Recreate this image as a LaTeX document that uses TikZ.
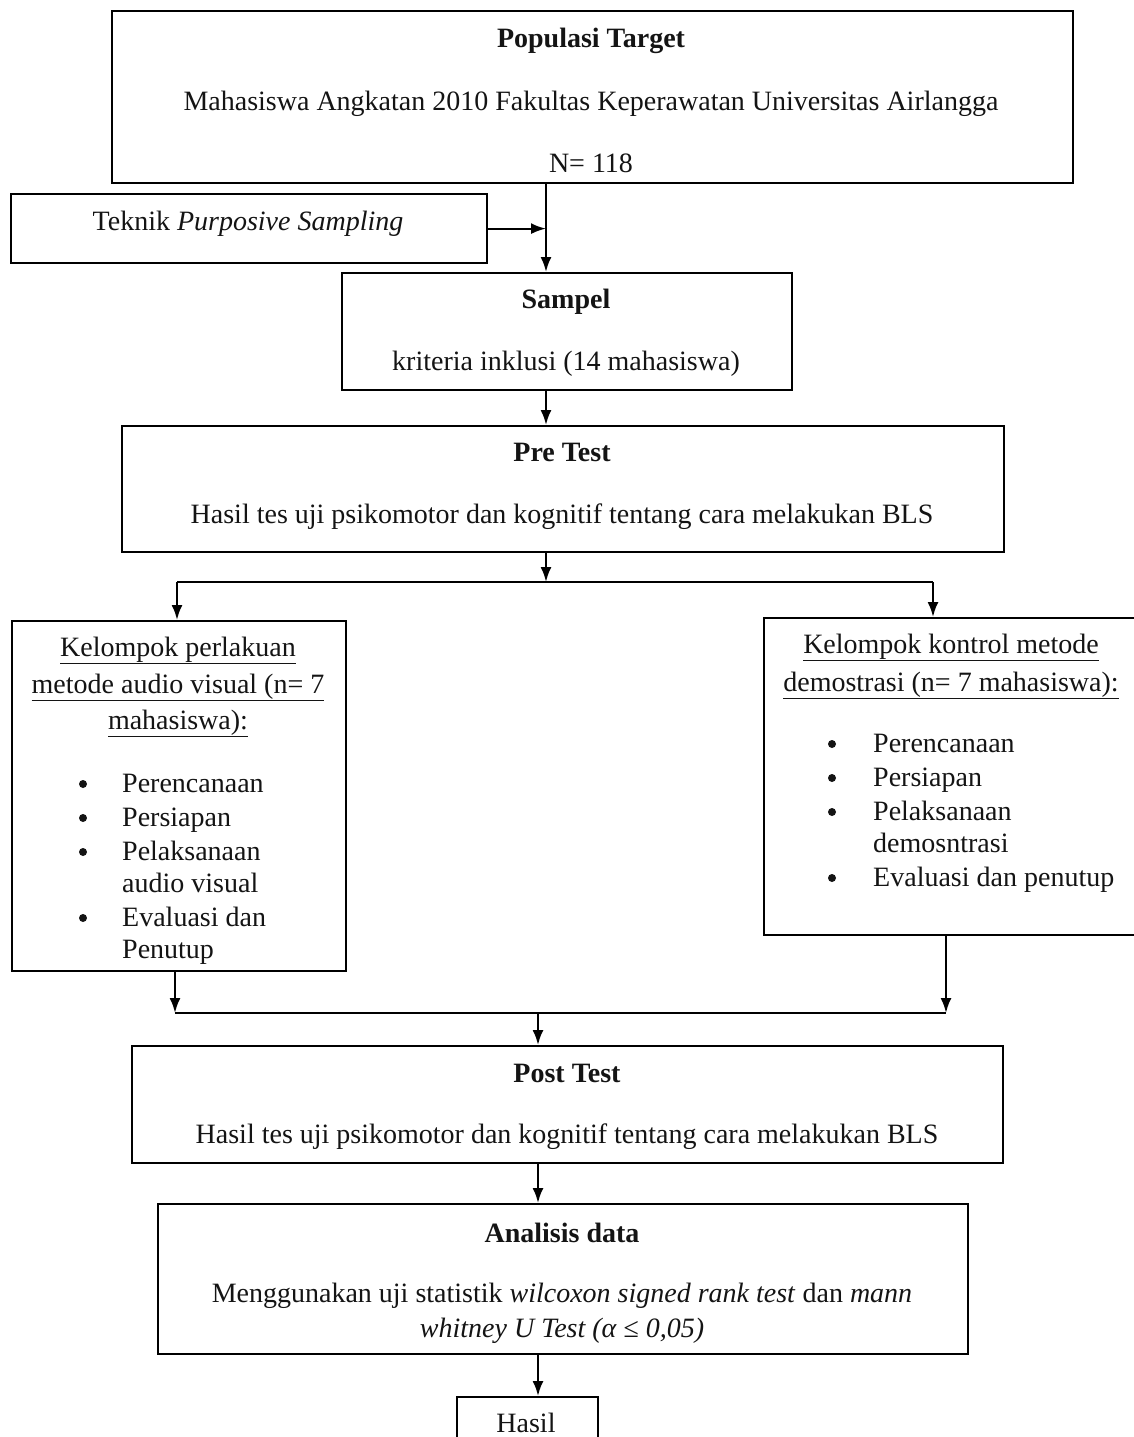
\documentclass[tikz,border=0pt]{standalone}
\usepackage{fontspec}
\setmainfont{Liberation Serif}
\usetikzlibrary{arrows.meta,calc}
\begin{document}
\begin{tikzpicture}[x=1pt,y=-1pt,
  box/.style={draw=black,line width=2.2pt,inner sep=0pt,anchor=north west},
  txt/.style={anchor=base,inner sep=0pt,font=\fontsize{28}{34}\selectfont,text=black!92},
  ltxt/.style={anchor=base west,inner sep=0pt,font=\fontsize{28}{34}\selectfont,text=black!92},
  bul/.style={circle,fill=black!92,inner sep=0pt,minimum size=8pt},
  conn/.style={line width=2.2pt},
  arr/.style={line width=2.2pt,-{Latex[length=15pt,width=11pt]}}]
\useasboundingbox (0,0) rectangle (1134,1437);
\clip (0,0) rectangle (1134,1437);
\fill[white] (0,0) rectangle (1134,1437);
% boxes
\node[box,minimum width=961pt,minimum height=172pt] (pop) at (111,10) {};
\node[box,minimum width=476pt,minimum height=69pt] (tek) at (10,193) {};
\node[box,minimum width=450pt,minimum height=117pt] (sam) at (341,272) {};
\node[box,minimum width=882pt,minimum height=126pt] (pre) at (121,425) {};
\node[box,minimum width=334pt,minimum height=350pt] (lft) at (11,620) {};
\node[box,minimum width=390pt,minimum height=317pt] (rgt) at (763,617) {};
\node[box,minimum width=871pt,minimum height=117pt] (post) at (131,1045) {};
\node[box,minimum width=810pt,minimum height=150pt] (ana) at (157,1203) {};
\node[box,minimum width=141pt,minimum height=60pt] (has) at (456,1396) {};
% coordinates
\coordinate (spine) at (546,0);
\coordinate (split) at (546,582);
\coordinate (sl) at (177,582);
\coordinate (sr) at (933,582);
\coordinate (ml) at (175,1013);
\coordinate (mr) at (946,1013);
\coordinate (merge) at (538,1013);
% texts
\node[txt,font=\fontsize{28}{34}\selectfont\bfseries] (t1) at (591,48) {Populasi Target};
\node[txt] (t2) at (591,110) {Mahasiswa Angkatan 2010 Fakultas Keperawatan Universitas Airlangga};
\node[txt] (t3) at (591,172) {N= 118};
\node[txt] (t4) at (248,230) {Teknik \textit{Purposive Sampling}};
\node[txt,font=\fontsize{28}{34}\selectfont\bfseries] (t5) at (566,308) {Sampel};
\node[txt] (t6) at (566,370) {kriteria inklusi (14 mahasiswa)};
\node[txt,font=\fontsize{28}{34}\selectfont\bfseries] (t7) at (562,461) {Pre Test};
\node[txt] (t8) at (562,523) {Hasil tes uji psikomotor dan kognitif tentang cara melakukan BLS};
% left box
\node[txt] (l1) at (178,656) {\underline{Kelompok perlakuan}};
\node[txt] (l2) at (178,693) {\underline{metode audio visual (n= 7}};
\node[txt] (l3) at (178,729) {\underline{mahasiswa):}};
\node[bul] (lb1) at (83,784) {};
\node[ltxt] (lt1) at (122,792) {Perencanaan};
\node[bul] (lb2) at (83,818) {};
\node[ltxt] (lt2) at (122,826) {Persiapan};
\node[bul] (lb3) at (83,852) {};
\node[ltxt] (lt3) at (122,860) {Pelaksanaan};
\node[ltxt] (lt4) at (122,892) {audio visual};
\node[bul] (lb5) at (83,918) {};
\node[ltxt] (lt5) at (122,926) {Evaluasi dan};
\node[ltxt] (lt6) at (122,958) {Penutup};
% right box
\node[txt] (r1) at (951,653) {\underline{Kelompok kontrol metode}};
\node[txt] (r2) at (951,691) {\underline{demostrasi (n= 7 mahasiswa):}};
\node[bul] (rb1) at (832,744) {};
\node[ltxt] (rt1) at (873,752) {Perencanaan};
\node[bul] (rb2) at (832,778) {};
\node[ltxt] (rt2) at (873,786) {Persiapan};
\node[bul] (rb3) at (832,812) {};
\node[ltxt] (rt3) at (873,820) {Pelaksanaan};
\node[ltxt] (rt4) at (873,852) {demosntrasi};
\node[bul] (rb5) at (832,878) {};
\node[ltxt] (rt5) at (873,886) {Evaluasi dan penutup};
% bottom texts
\node[txt,font=\fontsize{28}{34}\selectfont\bfseries] (p1) at (567,1082) {Post Test};
\node[txt] (p2) at (567,1143) {Hasil tes uji psikomotor dan kognitif tentang cara melakukan BLS};
\node[txt,font=\fontsize{28}{34}\selectfont\bfseries] (a1) at (562,1242) {Analisis data};
\node[txt] (a2) at (562,1302) {Menggunakan uji statistik \textit{wilcoxon signed rank test} dan \textit{mann}};
\node[txt] (a3) at (562,1337) {\textit{whitney U Test (α ≤ 0,05)}};
\node[txt] (h1) at (526,1432) {Hasil};
% connectors
\draw[arr] (pop.south -| spine) -- (sam.north -| spine);
\draw[arr] (tek.east) -- (tek.east -| spine);
\draw[arr] (sam.south -| spine) -- (pre.north -| spine);
\draw[arr] (pre.south -| spine) -- (split);
\draw[conn] (sl) -- (sr);
\draw[arr] (sl) -- (lft.north -| sl);
\draw[arr] (sr) -- (rgt.north -| sr);
\draw[arr] (lft.south -| ml) -- (ml);
\draw[arr] (rgt.south -| mr) -- (mr);
\draw[conn] (ml) -- (mr);
\draw[arr] (merge) -- (post.north -| merge);
\draw[arr] (post.south -| merge) -- (ana.north -| merge);
\draw[arr] (ana.south -| merge) -- (has.north -| merge);
\end{tikzpicture}
\end{document}
